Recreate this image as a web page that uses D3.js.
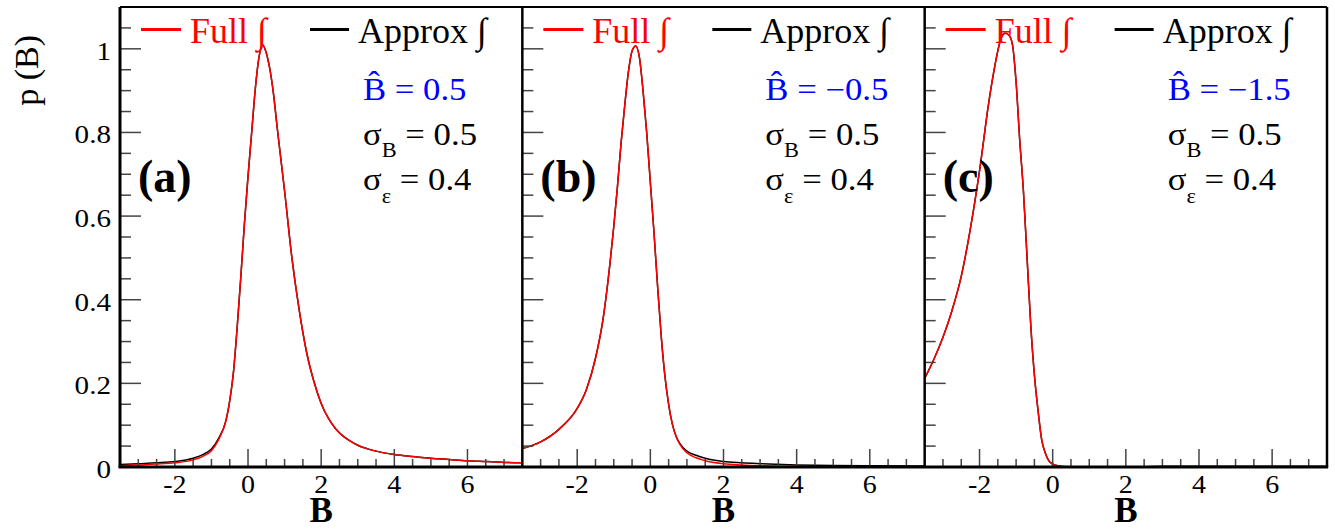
<!DOCTYPE html>
<html><head><meta charset="utf-8">
<script src="https://cdn.jsdelivr.net/npm/d3@7/dist/d3.min.js"></script>
<style>
body{margin:0;background:#fff;}
text{font-family:"Liberation Serif","Times New Roman",serif;}
</style></head>
<body><svg id="c" width="1335" height="529"></svg>
<script>
// ---- tick labels / text ----
const xTickValues = [-2, 0, 2, 4, 6];
const xTickLabels = ["-2", "0", "2", "4", "6"];
const yTickValues = [0, 0.2, 0.4, 0.6, 0.8, 1];
const yTickLabels = ["0", "0.2", "0.4", "0.6", "0.8", "1"];
const panelLabels = ["(a)", "(b)", "(c)"];
const bHatValues = ["0.5", "\u22120.5", "\u22121.5"];
const sigmaBValue = "0.5";
const sigmaEpsValue = "0.4";
const legendLabels = ["Full \u222B", "Approx \u222B"];
const xTitle = "B";
const yTitle = "p (B)";

// ---- panel (a): B^ = 0.5 ----
const xA = [-3.5,-3,-2.5,-2,-1.5,-1.25,-1,-0.8,-0.6,-0.5,-0.4,-0.3,-0.2,-0.1,0,0.1,0.2,0.3,0.4,0.5,0.6,0.7,0.8,0.9,1.0,1.2,1.4,1.6,1.8,2.0,2.2,2.4,2.6,2.8,3.0,3.25,3.5,4.0,4.5,5,5.5,6,6.5,7,7.5];
const fullA = [0.003,0.005,0.007,0.010,0.017,0.025,0.039,0.066,0.112,0.158,0.225,0.33,0.45,0.58,0.695,0.80,0.905,0.98,1.01,0.99,0.95,0.89,0.81,0.735,0.66,0.50,0.375,0.275,0.205,0.152,0.116,0.091,0.074,0.062,0.052,0.044,0.038,0.030,0.025,0.021,0.018,0.015,0.013,0.011,0.010];
const approxA = [0.006,0.008,0.010,0.013,0.021,0.029,0.043,0.069,0.112,0.158,0.225,0.33,0.45,0.58,0.695,0.80,0.905,0.98,1.01,0.99,0.95,0.89,0.81,0.735,0.66,0.50,0.375,0.275,0.205,0.152,0.116,0.091,0.074,0.062,0.052,0.044,0.038,0.030,0.025,0.021,0.018,0.015,0.013,0.011,0.010];

// ---- panel (b): B^ = -0.5 ----
const xB = [-3.5,-3,-2.5,-2,-1.75,-1.5,-1.3,-1.1,-1.0,-0.9,-0.8,-0.7,-0.6,-0.5,-0.4,-0.3,-0.2,-0.1,0,0.1,0.2,0.3,0.4,0.5,0.6,0.7,0.8,1.0,1.25,1.5,2,2.5,3,4,5,6,7.5];
const fullB = [0.044,0.060,0.090,0.140,0.185,0.26,0.35,0.49,0.575,0.67,0.775,0.865,0.945,0.995,1.007,0.98,0.90,0.80,0.68,0.56,0.43,0.31,0.216,0.15,0.103,0.074,0.055,0.034,0.022,0.015,0.008,0.005,0.003,0.001,0.0005,0.0003,0.0002];
const approxB = [0.044,0.060,0.090,0.140,0.185,0.26,0.35,0.49,0.575,0.67,0.775,0.865,0.945,0.995,1.007,0.98,0.90,0.80,0.68,0.56,0.43,0.31,0.216,0.15,0.103,0.074,0.057,0.038,0.028,0.021,0.013,0.010,0.008,0.005,0.0035,0.0028,0.0022];

// ---- panel (c): B^ = -1.5 ----
const xC = [-3.5,-3.25,-3,-2.75,-2.5,-2.25,-2,-1.75,-1.6,-1.5,-1.4,-1.3,-1.2,-1.1,-1.0,-0.9,-0.8,-0.7,-0.6,-0.5,-0.4,-0.3,-0.2,-0.1,0,0.2,0.4,0.6,1,2,3,4,5,6,7,7.5];
const fullC = [0.212,0.257,0.31,0.375,0.456,0.57,0.708,0.87,0.95,0.995,1.028,1.037,1.033,1.01,0.92,0.78,0.66,0.50,0.34,0.22,0.135,0.065,0.033,0.014,0.007,0.002,0.0005,0,0,0,0,0,0,0,0,0];
const approxC = [0.212,0.257,0.31,0.375,0.456,0.57,0.708,0.87,0.95,0.995,1.028,1.037,1.033,1.01,0.92,0.78,0.66,0.50,0.34,0.22,0.135,0.065,0.033,0.014,0.007,0.002,0.0005,0,0,0,0.0015,0.002,0.002,0.002,0.002,0.002];

// ---- build ----
const panels = [
  {x: xA, full: fullA, approx: approxA},
  {x: xB, full: fullB, approx: approxB},
  {x: xC, full: fullC, approx: approxC}
];

const svg = d3.select("#c");
const frameL = 120, frameR = 1327, frameT = 7, frameB = 467;
const pw = (frameR - frameL) / 3;
const y = d3.scaleLinear().domain([0, 1.1]).range([frameB, frameT]);
const TS = 1.12; // horizontal stretch of tick/annotation glyphs

panels.forEach((p, i) => {
  const left = frameL + i * pw;
  const x = d3.scaleLinear().domain([-3.5, 7.5]).range([left, left + pw]);
  const g = svg.append("g");
  const cid = "clip" + i;
  svg.append("clipPath").attr("id", cid).append("rect")
    .attr("x", left).attr("y", frameT).attr("width", pw).attr("height", frameB - frameT);

  const line = d3.line().x(d => x(d[0])).y(d => y(d[1])).curve(d3.curveMonotoneX);
  g.append("path").datum(p.x.map((v, k) => [v, p.approx[k]]))
    .attr("d", line).attr("fill", "none").attr("stroke", "#000").attr("stroke-width", 1.5)
    .attr("clip-path", `url(#${cid})`);
  g.append("path").datum(p.x.map((v, k) => [v, p.full[k]]))
    .attr("d", line).attr("fill", "none").attr("stroke", "#ff0000").attr("stroke-width", 1.5)
    .attr("clip-path", `url(#${cid})`);

  // y ticks (inside, left edge)
  const yMinor = d3.range(0, 1.1001, 0.05);
  yMinor.forEach(v => {
    const major = Math.abs(v / 0.2 - Math.round(v / 0.2)) < 1e-6;
    g.append("line").attr("x1", left).attr("x2", left + (major ? 21 : 11))
      .attr("y1", y(v)).attr("y2", y(v)).attr("stroke", "#444").attr("stroke-width", 1.5);
  });
  // x ticks (inside, bottom)
  const xMinor = d3.range(-3, 7.5, 0.5);
  xMinor.forEach(v => {
    const major = Math.abs(v / 2 - Math.round(v / 2)) < 1e-6;
    g.append("line").attr("x1", x(v)).attr("x2", x(v))
      .attr("y1", frameB).attr("y2", frameB - (major ? 18 : 8)).attr("stroke", "#444").attr("stroke-width", 1.5);
  });

  // x tick labels
  xTickValues.forEach((v, k) => {
    svg.append("text").attr("transform", `translate(${x(v)},${493}) scale(${TS},1)`)
      .attr("text-anchor", "middle").attr("font-size", 25).attr("fill", "#000").text(xTickLabels[k]);
  });
  // y tick labels only on first panel
  if (i === 0) {
    yTickValues.forEach((v, k) => {
      svg.append("text").attr("transform", `translate(${111},${y(v) + 11}) scale(${TS},1)`)
        .attr("text-anchor", "end").attr("font-size", 26).attr("fill", "#000").text(yTickLabels[k]);
    });
  }
  // x title
  svg.append("text").attr("x", left + pw / 2).attr("y", 522).attr("text-anchor", "middle")
    .attr("font-size", 35).attr("font-weight", "bold").attr("fill", "#000").text(xTitle);

  // legend
  svg.append("line").attr("x1", left + 21).attr("x2", left + 61).attr("y1", 29.5).attr("y2", 29.5)
    .attr("stroke", "#ff0000").attr("stroke-width", 3);
  svg.append("text").attr("x", left + 70).attr("y", 42.5).attr("font-size", 36).attr("fill", "#ff0000").text(legendLabels[0]);
  svg.append("line").attr("x1", left + 190).attr("x2", left + 229).attr("y1", 29.5).attr("y2", 29.5)
    .attr("stroke", "#000").attr("stroke-width", 3);
  svg.append("text").attr("x", left + 238).attr("y", 42.5).attr("font-size", 36).attr("fill", "#000").text(legendLabels[1]);

  // annotations
  const ax = left + 243;
  const t1 = svg.append("text").attr("transform", `translate(${ax},99.5) scale(${TS},1)`)
    .attr("font-size", 31).attr("fill", "#0000ff").attr("xml:space", "preserve");
  t1.text("B\u0302 = " + bHatValues[i]);
  const t2 = svg.append("text").attr("transform", `translate(${ax},145) scale(${TS},1)`)
    .attr("font-size", 31).attr("fill", "#000").attr("xml:space", "preserve");
  t2.append("tspan").text("\u03C3");
  t2.append("tspan").attr("font-size", 20).attr("dy", 12).text("B");
  t2.append("tspan").attr("dy", -12).text(" = " + sigmaBValue);
  const t3 = svg.append("text").attr("transform", `translate(${ax},190) scale(${TS},1)`)
    .attr("font-size", 31).attr("fill", "#000").attr("xml:space", "preserve");
  t3.append("tspan").text("\u03C3");
  t3.append("tspan").attr("font-size", 20).attr("dy", 13).text("\u03B5");
  t3.append("tspan").attr("dy", -13).text(" = " + sigmaEpsValue);

  // panel label
  svg.append("text").attr("x", left + 18).attr("y", 192).attr("font-size", 46).attr("font-weight", "bold")
    .attr("fill", "#000").text(panelLabels[i]);

  // divider / left edge
  svg.append("line").attr("x1", left).attr("x2", left).attr("y1", frameT).attr("y2", frameB)
    .attr("stroke", "#000").attr("stroke-width", i === 0 ? 3 : 2.5);
});

// frame
svg.append("line").attr("x1", frameL).attr("x2", frameR).attr("y1", frameT).attr("y2", frameT).attr("stroke", "#000").attr("stroke-width", 2);
svg.append("line").attr("x1", frameR).attr("x2", frameR).attr("y1", frameT).attr("y2", frameB).attr("stroke", "#000").attr("stroke-width", 2.5);
svg.append("line").attr("x1", frameL - 1.5).attr("x2", frameR + 1.2).attr("y1", frameB).attr("y2", frameB).attr("stroke", "#000").attr("stroke-width", 3);

// y title
svg.append("text").attr("transform", "translate(38,35) rotate(-90)").attr("text-anchor", "end")
  .attr("font-size", 34).attr("fill", "#000").text(yTitle);
</script>
</body></html>
